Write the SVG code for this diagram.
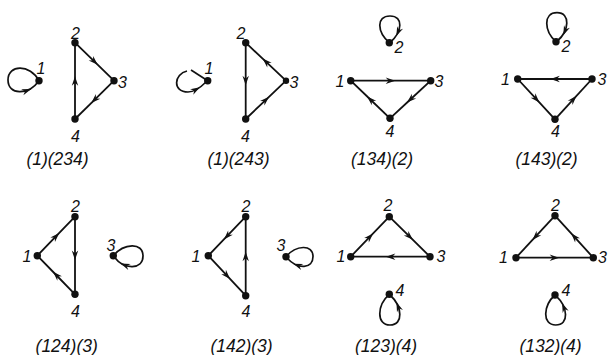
<svg xmlns="http://www.w3.org/2000/svg" xmlns:xlink="http://www.w3.org/1999/xlink" width="608" height="355" viewBox="0 0 608 355">
<style>
.e{fill:none;stroke:#111;stroke-width:1.8;marker-mid:url(#a)}
.l{fill:none;stroke:#111;stroke-width:1.7}
.d{fill:#111}
.t{font-family:"Liberation Sans",Arial,sans-serif;font-style:italic;font-size:16px;fill:#111;text-anchor:middle}
.c{font-family:"Liberation Sans",Arial,sans-serif;font-style:italic;font-size:17.5px;fill:#111;text-anchor:middle}
</style>
<defs>
<marker id="a" markerUnits="userSpaceOnUse" markerWidth="12" markerHeight="8" refX="0" refY="0" orient="auto" overflow="visible">
<path d="M4.5,0 L-5,-3.2 L-2,0 L-5,3.2 Z" fill="#111"/>
</marker>
<path id="ah" d="M4.5,0 L-5,-3.2 L-2,0 L-5,3.2 Z" fill="#111"/>
</defs>
<rect width="608" height="355" fill="#fff"/>

<g id="connectors">
<!-- panel 1 -->
<path class="e" d="M75,42.7 L94.5,61.7 L114,80.7"/>
<path class="e" d="M114,80.7 L94.5,99.85 L75,119"/>
<path class="e" d="M75,119 L75,80.85 L75,42.7"/>
<path class="l" d="M39,80.7 C30,64 8,64 8,80 C8,95 28,96 39,80.7"/>
<use xlink:href="#ah" transform="translate(27,90.5) rotate(-20)"/>
<!-- panel 2 -->
<path class="e" d="M245.7,42.7 L245.7,80.85 L245.7,119"/>
<path class="e" d="M245.7,119 L265.85,99.85 L286,80.7"/>
<path class="e" d="M286,80.7 L265.85,61.7 L245.7,42.7"/>
<path class="l" d="M207.7,80.7 L191,70"/>
<path class="l" d="M187,71 C174,74 172,92 188,92 C196,92 202,86 206,82"/>
<use xlink:href="#ah" transform="translate(196,89.5) rotate(-30)"/>
<!-- panel 3 -->
<path class="e" d="M350.7,80.7 L390.7,80.7 L430.7,80.7"/>
<path class="e" d="M430.7,80.7 L410.35,99.5 L390,118.3"/>
<path class="e" d="M390,118.3 L370.35,99.5 L350.7,80.7"/>
<path class="l" d="M389.3,42.7 C377,32 376,16 390,16 C404,16 402,32 390.5,42"/>
<use xlink:href="#ah" transform="translate(398.1,32) rotate(114)"/>
<!-- panel 4 -->
<path class="e" d="M592,79 L554.85,79 L517.7,79"/>
<path class="e" d="M517.7,79 L536.35,99.15 L555,119.3"/>
<path class="e" d="M555,119.3 L573.5,99.15 L592,79"/>
<path class="l" d="M556,41.7 C544,31 543,12.7 557,12.7 C571,12.7 569,31 557.3,41"/>
<use xlink:href="#ah" transform="translate(565,31) rotate(113)"/>
<!-- panel 5 -->
<path class="e" d="M37.3,255.7 L56.15,236.2 L75,216.7"/>
<path class="e" d="M75,216.7 L75,255.5 L75,294.3"/>
<path class="e" d="M75,294.3 L56.15,275 L37.3,255.7"/>
<path class="l" d="M113.3,255.7 C124,243 143,242 143,256 C143,270 124,270 114.3,257"/>
<use xlink:href="#ah" transform="translate(124.8,265.2) rotate(202)"/>
<!-- panel 6 -->
<path class="e" d="M245.7,216.7 L227,236.2 L208.3,255.7"/>
<path class="e" d="M208.3,255.7 L227,275.7 L245.7,295.7"/>
<path class="e" d="M245.7,295.7 L245.7,256.2 L245.7,216.7"/>
<path class="l" d="M286,256.7 C296,245 313,244 313,256.5 C313,269 298,270 287,258"/>
<use xlink:href="#ah" transform="translate(297.5,265.3) rotate(200)"/>
<!-- panel 7 -->
<path class="e" d="M350.7,256.7 L370,236.7 L389.3,216.7"/>
<path class="e" d="M389.3,216.7 L409.65,236.7 L430,256.7"/>
<path class="e" d="M430,256.7 L390.35,256.7 L350.7,256.7"/>
<path class="l" d="M389.3,294.3 C377,305 376,325 390,325 C404,325 402,306 390.5,295.5"/>
<use xlink:href="#ah" transform="translate(398.1,306.5) rotate(248)"/>
<!-- panel 8 -->
<path class="e" d="M555,215.7 L535.5,236.7 L516,257.7"/>
<path class="e" d="M516,257.7 L554.65,257.7 L593.3,257.7"/>
<path class="e" d="M593.3,257.7 L574.15,236.7 L555,215.7"/>
<path class="l" d="M555,295 C543,305.7 542,325 555.7,325 C569.7,325 567.7,306.7 556.2,296.2"/>
<use xlink:href="#ah" transform="translate(563.8,307.2) rotate(248)"/>
</g>

<!-- panel 1 nodes -->
<g id="p1-n1"><circle class="d" cx="39" cy="80.7" r="3.7"/><text class="t" x="41" y="74">1</text></g>
<g id="p1-n2"><circle class="d" cx="75" cy="42.7" r="3.7"/><text class="t" x="75.5" y="39">2</text></g>
<g id="p1-n3"><circle class="d" cx="114" cy="80.7" r="3.7"/><text class="t" x="122.5" y="88">3</text></g>
<g id="p1-n4"><circle class="d" cx="75" cy="119" r="3.7"/><text class="t" x="75.5" y="142">4</text></g>
<!-- panel 2 nodes -->
<g id="p2-n1"><circle class="d" cx="207.7" cy="80.7" r="3.7"/><text class="t" x="209" y="74">1</text></g>
<g id="p2-n2"><circle class="d" cx="245.7" cy="42.7" r="3.7"/><text class="t" x="241" y="39">2</text></g>
<g id="p2-n3"><circle class="d" cx="286" cy="80.7" r="3.2"/><text class="t" x="294" y="88">3</text></g>
<g id="p2-n4"><circle class="d" cx="245.7" cy="119" r="3.7"/><text class="t" x="245.5" y="142">4</text></g>
<!-- panel 3 nodes -->
<g id="p3-n1"><circle class="d" cx="350.7" cy="80.7" r="3.7"/><text class="t" x="340" y="87">1</text></g>
<g id="p3-n2"><circle class="d" cx="389.3" cy="42.7" r="3.7"/><text class="t" x="399" y="53">2</text></g>
<g id="p3-n3"><circle class="d" cx="430.7" cy="80.7" r="3.7"/><text class="t" x="439" y="87">3</text></g>
<g id="p3-n4"><circle class="d" cx="390" cy="118.3" r="3.7"/><text class="t" x="390" y="137">4</text></g>
<!-- panel 4 nodes -->
<g id="p4-n1"><circle class="d" cx="517.7" cy="79" r="3.7"/><text class="t" x="505.5" y="85">1</text></g>
<g id="p4-n2"><circle class="d" cx="556" cy="41.7" r="3.7"/><text class="t" x="566" y="52">2</text></g>
<g id="p4-n3"><circle class="d" cx="592" cy="79" r="3.7"/><text class="t" x="602" y="85">3</text></g>
<g id="p4-n4"><circle class="d" cx="555" cy="119.3" r="3.7"/><text class="t" x="555.5" y="137">4</text></g>
<!-- panel 5 nodes -->
<g id="p5-n1"><circle class="d" cx="37.3" cy="255.7" r="3.7"/><text class="t" x="27" y="262">1</text></g>
<g id="p5-n2"><circle class="d" cx="75" cy="216.7" r="3.7"/><text class="t" x="75.5" y="212">2</text></g>
<g id="p5-n3"><circle class="d" cx="113.3" cy="255.7" r="3.7"/><text class="t" x="111" y="251">3</text></g>
<g id="p5-n4"><circle class="d" cx="75" cy="294.3" r="3.7"/><text class="t" x="75.5" y="317">4</text></g>
<!-- panel 6 nodes -->
<g id="p6-n1"><circle class="d" cx="208.3" cy="255.7" r="3.7"/><text class="t" x="196" y="262">1</text></g>
<g id="p6-n2"><circle class="d" cx="245.7" cy="216.7" r="3.7"/><text class="t" x="246" y="212">2</text></g>
<g id="p6-n3"><circle class="d" cx="286" cy="256.7" r="3.7"/><text class="t" x="281" y="251">3</text></g>
<g id="p6-n4"><circle class="d" cx="245.7" cy="295.7" r="3.7"/><text class="t" x="246" y="317">4</text></g>
<!-- panel 7 nodes -->
<g id="p7-n1"><circle class="d" cx="350.7" cy="256.7" r="3.7"/><text class="t" x="341" y="262">1</text></g>
<g id="p7-n2"><circle class="d" cx="389.3" cy="216.7" r="3.7"/><text class="t" x="388" y="211">2</text></g>
<g id="p7-n3"><circle class="d" cx="430" cy="256.7" r="3.7"/><text class="t" x="441" y="262">3</text></g>
<g id="p7-n4"><circle class="d" cx="389.3" cy="294.3" r="3.7"/><text class="t" x="400" y="296">4</text></g>
<!-- panel 8 nodes -->
<g id="p8-n1"><circle class="d" cx="516" cy="257.7" r="3.7"/><text class="t" x="503.5" y="263">1</text></g>
<g id="p8-n2"><circle class="d" cx="555" cy="215.7" r="3.7"/><text class="t" x="555.5" y="211">2</text></g>
<g id="p8-n3"><circle class="d" cx="593.3" cy="257.7" r="3.7"/><text class="t" x="602.5" y="263">3</text></g>
<g id="p8-n4"><circle class="d" cx="555" cy="295" r="3.7"/><text class="t" x="566" y="296">4</text></g>

<g id="captions">
<text class="c" x="57.5" y="165">(1)(234)</text>
<text class="c" x="238.5" y="165">(1)(243)</text>
<text class="c" x="382" y="165">(134)(2)</text>
<text class="c" x="546.5" y="165">(143)(2)</text>
<text class="c" x="66.7" y="352">(124)(3)</text>
<text class="c" x="241.5" y="352">(142)(3)</text>
<text class="c" x="386" y="352">(123)(4)</text>
<text class="c" x="550.5" y="352">(132)(4)</text>
</g>
</svg>
